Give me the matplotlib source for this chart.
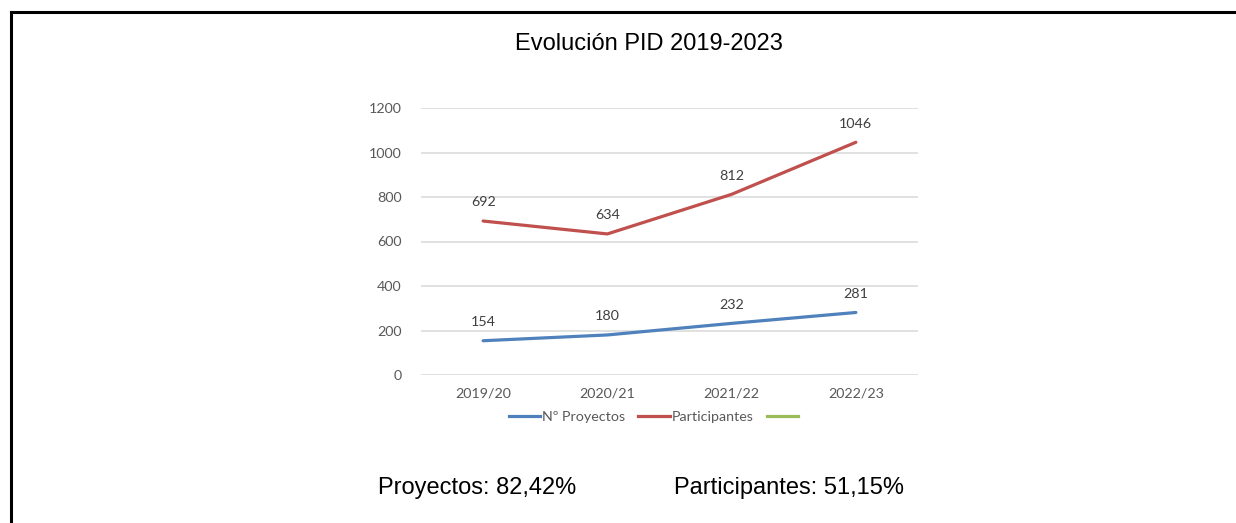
import matplotlib
matplotlib.use("Agg")
from matplotlib import pyplot as plt
from matplotlib.lines import Line2D

# data
cursos = ["2019/20", "2020/21", "2021/22", "2022/23"]
proyectos = [154, 180, 232, 281]
participantes = [692, 634, 812, 1046]
yticks = [0, 200, 400, 600, 800, 1000, 1200]

AZUL = "#4F81BD"
ROJO = "#C0504D"
VERDE = "#9BBB59"
GRIS = "#595959"
fuente_graf = ["Lato", "DejaVu Sans"]
fuente_txt = ["Liberation Sans", "DejaVu Sans"]

fig = plt.figure(figsize=(12.36, 5.23), dpi=100)

# marco de la página (borde izquierdo y superior)
fig.add_artist(Line2D([11 / 1236, 11 / 1236], [0, 1 - 12 / 523],
                      transform=fig.transFigure, color="black", lw=2.2))
fig.add_artist(Line2D([11 / 1236, 1], [1 - 12 / 523, 1 - 12 / 523],
                      transform=fig.transFigure, color="black", lw=2.2))

ax = fig.add_axes([421 / 1236, 1 - 375 / 523, 497 / 1236, 267 / 523])
x = range(len(cursos))
ax.plot(x, proyectos, color=AZUL, lw=2.3, solid_capstyle="round", zorder=3)
ax.plot(x, participantes, color=ROJO, lw=2.3, solid_capstyle="round", zorder=3)

for serie in (proyectos, participantes):
    for i, v in enumerate(serie):
        ax.annotate(str(v), (i, v), xytext=(0, 13.5), textcoords="offset points",
                    ha="center", va="center", fontsize=10.3, color="#404040",
                    family=fuente_graf)

ax.set_xlim(-0.5, len(cursos) - 0.5)
ax.set_ylim(0, 1200)
ax.set_yticks(yticks)
ax.set_xticks(list(x))
ax.set_xticklabels(cursos)
ax.grid(axis="y", color="#D9D9D9", lw=1.1)
ax.set_axisbelow(True)
for s in ax.spines.values():
    s.set_visible(False)
ax.tick_params(length=0, colors=GRIS, labelsize=10.3, pad=9)
ax.tick_params(axis="y", pad=14)
for t in ax.get_xticklabels() + ax.get_yticklabels():
    t.set_family(fuente_graf)

handles = [Line2D([], [], color=AZUL, lw=2.3),
           Line2D([], [], color=ROJO, lw=2.3),
           Line2D([], [], color=VERDE, lw=2.3)]
ax.legend(handles, ["Nº Proyectos", "Participantes", ""], loc="upper center",
          bbox_to_anchor=(0.47, -0.085), ncol=3, frameon=False,
          prop={"family": fuente_graf, "size": 10.3}, labelcolor=GRIS,
          handlelength=2.2, handletextpad=0.15, columnspacing=0.9)

fig.text(649 / 1236, 1 - 44 / 523, "Evolución PID 2019-2023", ha="center",
         va="center", fontsize=17, family=fuente_txt, color="black")
fig.text(477 / 1236, 1 - 488 / 523, "Proyectos: 82,42%", ha="center",
         va="center", fontsize=17, family=fuente_txt, color="black")
fig.text(789 / 1236, 1 - 488 / 523, "Participantes: 51,15%", ha="center",
         va="center", fontsize=17, family=fuente_txt, color="black")

fig.savefig("out.png", dpi=100, facecolor="white")
